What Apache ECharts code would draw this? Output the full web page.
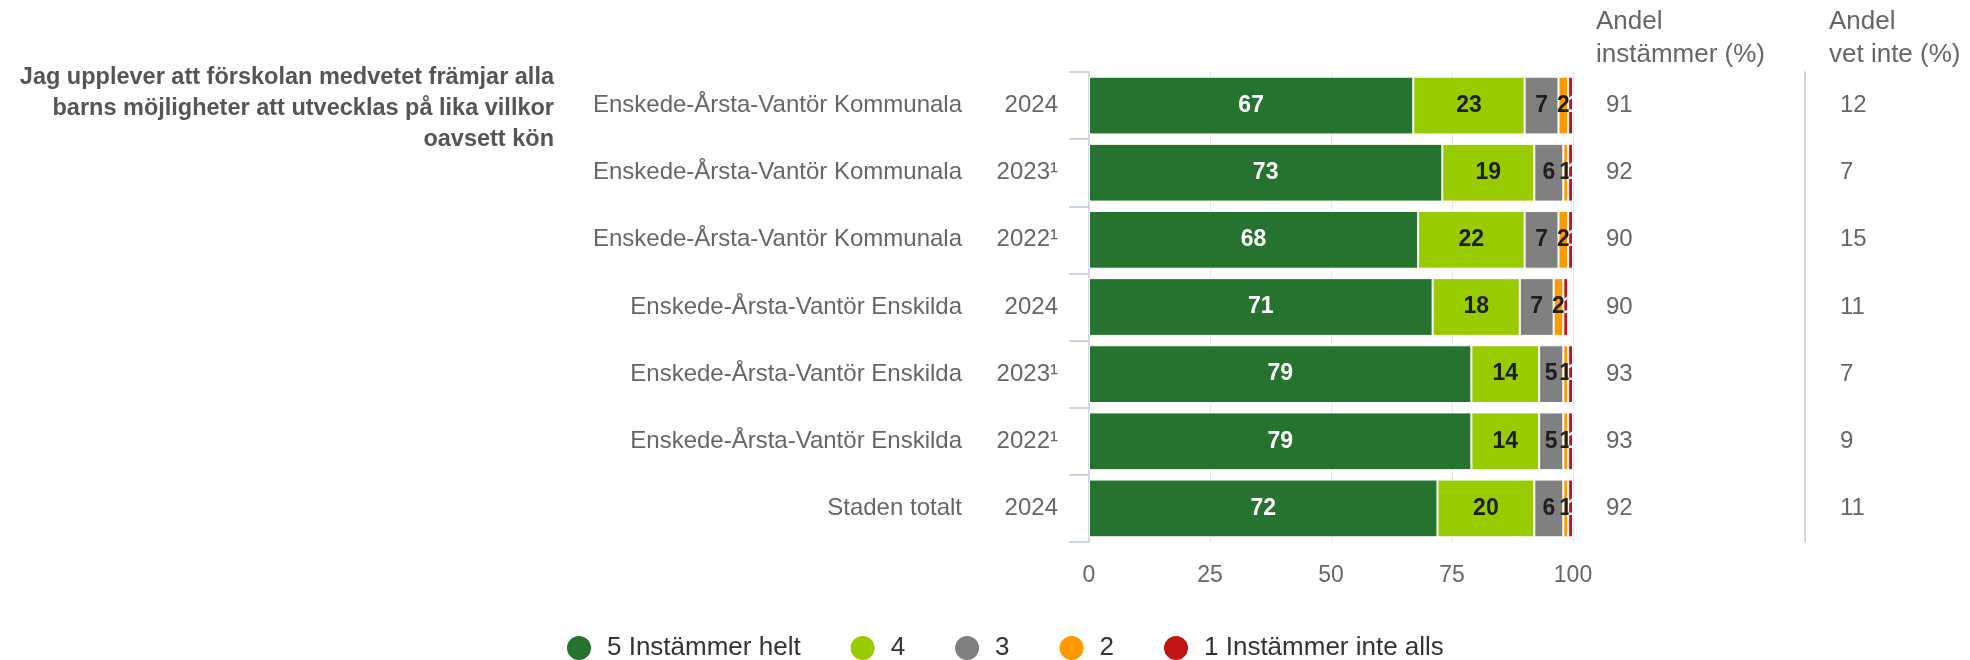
<!DOCTYPE html>
<html lang="sv">
<head>
<meta charset="utf-8">
<title>Jag upplever att förskolan medvetet främjar alla barns möjligheter</title>
<script src="https://cdn.jsdelivr.net/npm/echarts@6/dist/echarts.min.js"></script>
<style>
  html, body { margin: 0; padding: 0; background: #ffffff; }
  #chart { width: 1970px; height: 660px; }
</style>
</head>
<body>
<div id="chart"></div>
<script>
// Rows, top to bottom
const categories = [
  'Enskede-Årsta-Vantör Kommunala',
  'Enskede-Årsta-Vantör Kommunala',
  'Enskede-Årsta-Vantör Kommunala',
  'Enskede-Årsta-Vantör Enskilda',
  'Enskede-Årsta-Vantör Enskilda',
  'Enskede-Årsta-Vantör Enskilda',
  'Staden totalt'
];
const years = ['2024', '2023¹', '2022¹', '2024', '2023¹', '2022¹', '2024'];

// Share of answers per response option (%)
const instammerHelt = [67, 73, 68, 71, 79, 79, 72];   // 5
const svar4 = [23, 19, 22, 18, 14, 14, 20];           // 4
const svar3 = [7, 6, 7, 7, 5, 5, 6];                  // 3
const svar2 = [2, 1, 2, 2, 1, 1, 1];                  // 2
const instammerInteAlls = [1, 1, 1, 1, 1, 1, 1];      // 1

// Summary columns
const andelInstammer = [91, 92, 90, 90, 93, 93, 92];
const andelVetInte = [12, 7, 15, 11, 7, 9, 11];

const seriesNames = ['5 Instämmer helt', '4', '3', '2', '1 Instämmer inte alls'];
const seriesColors = ['#25732F', '#99CC00', '#808080', '#FF9900', '#BE1518'];
const seriesValues = [instammerHelt, svar4, svar3, svar2, instammerInteAlls];

const xTickInterval = 25;
const xMax = 100;

const questionLines = [
  'Jag upplever att förskolan medvetet främjar alla',
  'barns möjligheter att utvecklas på lika villkor',
  'oavsett kön'
];
const headerInstammer = 'Andel\ninstämmer (%)';
const headerVetInte = 'Andel\nvet inte (%)';

const FONT = '"Liberation Sans", Arial, Helvetica, sans-serif';
const rowIds = categories.map((_, i) => String(i));

const chart = echarts.init(document.getElementById('chart'), null, { renderer: 'canvas' });

const labelColors = ['#ffffff', '#1e1e1e', '#1e1e1e', '#1e1e1e', '#ffffff'];

const series = seriesValues.map((vals, k) => ({
  name: seriesNames[k],
  type: 'bar',
  stack: 'svar',
  xAxisIndex: 0,
  yAxisIndex: 0,
  barWidth: '86%',
  data: vals,
  itemStyle: { color: seriesColors[k], borderColor: '#ffffff', borderWidth: 1 },
  label: {
    show: true,
    position: 'inside',
    formatter: '{c}',
    color: labelColors[k],
    fontFamily: FONT,
    fontWeight: 'bold',
    fontSize: 23,
    offset: k === 4 ? [3, 0] : [0, 0]
  },
  emphasis: { disabled: true },
  animation: false
}));

// Question text, right-aligned, one element per line
const questionGraphics = questionLines.map((line, i) => ({
  type: 'text',
  x: 554,
  y: 66 + i * 31,
  style: {
    text: line,
    font: 'bold 23.5px ' + FONT,
    fill: '#555555',
    align: 'right',
    textAlign: 'right',
    verticalAlign: 'top',
    textVerticalAlign: 'top'
  }
}));

const option = {
  backgroundColor: '#ffffff',
  animation: false,
  textStyle: { fontFamily: FONT },
  grid: { left: 1089, right: 397, top: 72, bottom: 118, containLabel: false },
  legend: {
    left: 560,
    top: 629,
    icon: 'circle',
    itemWidth: 26,
    itemHeight: 26,
    itemGap: 48,
    selectedMode: false,
    data: seriesNames,
    textStyle: { fontFamily: FONT, fontSize: 26, color: '#333333', padding: [0, 0, 0, 10] }
  },
  xAxis: {
    type: 'value',
    min: 0,
    max: xMax,
    interval: xTickInterval,
    axisLine: { show: false },
    axisTick: { show: false },
    splitLine: { show: true, lineStyle: { color: '#e6e6e6', width: 1 } },
    axisLabel: { fontFamily: FONT, fontSize: 23, color: '#666666', margin: 22 }
  },
  yAxis: [
    {
      type: 'category',
      inverse: true,
      position: 'left',
      data: rowIds,
      axisLine: { show: true, lineStyle: { color: '#d5d9e3', width: 2 } },
      axisTick: { show: true, length: 20, alignWithLabel: false, lineStyle: { color: '#ccd6eb', width: 2 } },
      axisLabel: {
        margin: 127,
        fontFamily: FONT,
        fontSize: 24,
        color: '#666666',
        formatter: (v, i) => categories[i]
      }
    },
    {
      type: 'category',
      inverse: true,
      position: 'left',
      data: rowIds,
      axisLine: { show: false },
      axisTick: { show: false },
      axisLabel: {
        margin: 31,
        fontFamily: FONT,
        fontSize: 24,
        color: '#666666',
        formatter: (v, i) => years[i]
      }
    },
    {
      type: 'category',
      inverse: true,
      position: 'right',
      data: rowIds,
      axisLine: { show: false },
      axisTick: { show: false },
      axisLabel: {
        margin: 33,
        fontFamily: FONT,
        fontSize: 24,
        color: '#666666',
        formatter: (v, i) => String(andelInstammer[i])
      }
    },
    {
      type: 'category',
      inverse: true,
      position: 'right',
      offset: 232,
      data: rowIds,
      axisLine: { show: true, lineStyle: { color: '#ccd6eb', width: 2 } },
      axisTick: { show: false },
      axisLabel: {
        margin: 35,
        fontFamily: FONT,
        fontSize: 24,
        color: '#666666',
        formatter: (v, i) => String(andelVetInte[i])
      }
    }
  ],
  graphic: questionGraphics.concat([
    {
      type: 'text',
      left: 1596,
      top: 5,
      style: {
        text: headerInstammer,
        font: '26px ' + FONT,
        fill: '#666666',
        lineHeight: 33
      }
    },
    {
      type: 'text',
      left: 1829,
      top: 5,
      style: {
        text: headerVetInte,
        font: '26px ' + FONT,
        fill: '#666666',
        lineHeight: 33
      }
    }
  ]),
  series: series
};

chart.setOption(option);
</script>
</body>
</html>
